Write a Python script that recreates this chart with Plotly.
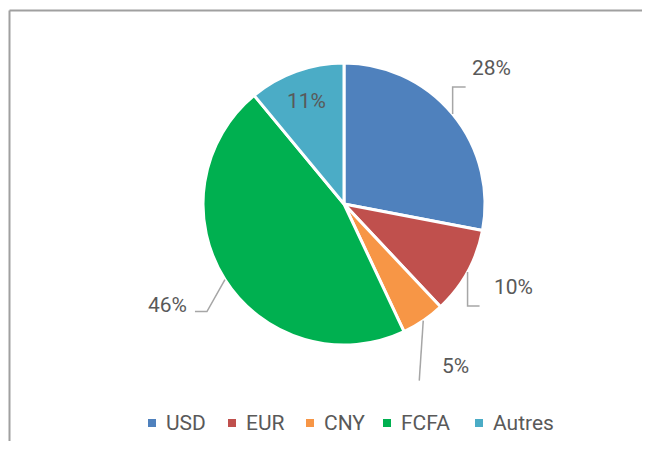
import math
import plotly.graph_objects as go

# ---- data ----
categories = ["USD", "EUR", "CNY", "FCFA", "Autres"]
values = [28, 10, 5, 46, 11]
colors = ["#4F81BD", "#C0504D", "#F79646", "#00B050", "#4BACC6"]

# ---- layout constants ----
# The page body has an 8px margin, so the figure is drawn offset by 8px and
# slightly smaller so that the page does not scroll.
OFF = 8
W, H = 656 - 2 * OFF - 6, 455 - 2 * OFF - 6
CX, CY, R = 344, 204, 141          # page pixel coordinates of the pie
TEXT_COLOR = "#595959"
LEADER_COLOR = "#A6A6A6"
FONT = "Roboto"
FONT_SIZE = 21

# label / leader placement, offsets in px relative to the slice edge at mid-angle
label_layout = {
    "USD": dict(path=[(0, -27), (13, 0)], label=(39, -46)),
    "EUR": dict(path=[(0, 34), (12, 0)], label=(46, 15)),
    "CNY": dict(path=[(-4, 60)], label=(32, 45)),
    "FCFA": dict(path=[(-18, 32), (-12, 0)], label=(-57, 25)),
    "Autres": dict(inside=0.78),
}
# legend symbol x positions (page px) and row y
legend_x = [152, 232, 310, 387, 479]
legend_y = 423
legend_sym = 8


def px(x):
    return (x - OFF) / W


def py(y):
    return 1 - (y - OFF) / H


fig = go.Figure(
    go.Pie(
        labels=categories,
        values=values,
        sort=False,
        direction="clockwise",
        rotation=0,
        marker=dict(colors=colors, line=dict(color="white", width=3)),
        textinfo="none",
        hoverinfo="skip",
        showlegend=False,
        domain=dict(x=[px(CX - R), px(CX + R)], y=[py(CY + R), py(CY - R)]),
    )
)

total = sum(values)
cum = 0
shapes = []
annotations = []
for cat, v in zip(categories, values):
    theta = (cum + v / 2) / total * 2 * math.pi
    cum += v
    lay = label_layout[cat]
    text = f"{v}%"
    if "inside" in lay:
        rr = R * lay["inside"]
        lx, ly = CX + rr * math.sin(theta), CY - rr * math.cos(theta)
    else:
        ex, ey = CX + R * math.sin(theta), CY - R * math.cos(theta)
        pts = [(ex, ey)]
        for dx, dy in lay["path"]:
            lastx, lasty = pts[-1]
            pts.append((lastx + dx, lasty + dy))
        d = "M " + " L ".join(f"{px(x):.5f},{py(y):.5f}" for x, y in pts)
        shapes.append(dict(type="path", xref="paper", yref="paper", path=d,
                           line=dict(color=LEADER_COLOR, width=1.5)))
        lx, ly = ex + lay["label"][0], ey + lay["label"][1]
    annotations.append(dict(x=px(lx), y=py(ly), xref="paper", yref="paper",
                            text=text, showarrow=False, xanchor="center", yanchor="middle",
                            font=dict(family=FONT, size=FONT_SIZE, color=TEXT_COLOR)))

# legend (symbol squares + labels)
for cat, col, lxp in zip(categories, colors, legend_x):
    h = legend_sym / 2
    shapes.append(dict(type="rect", xref="paper", yref="paper",
                       x0=px(lxp - h), x1=px(lxp + h), y0=py(legend_y + h), y1=py(legend_y - h),
                       fillcolor=col, line=dict(width=0)))
    annotations.append(dict(x=px(lxp + 12), y=py(legend_y), xref="paper", yref="paper",
                            text=cat, showarrow=False, xanchor="left", yanchor="middle",
                            font=dict(family=FONT, size=FONT_SIZE, color=TEXT_COLOR)))

# chart frame: only its top and left edges are inside the picture
frame = dict(color="#A0A0A0", width=2)
shapes.append(dict(type="line", xref="paper", yref="paper",
                   x0=px(9.5), x1=1.0, y0=py(10.5), y1=py(10.5), line=frame, layer="below"))
shapes.append(dict(type="line", xref="paper", yref="paper",
                   x0=px(9.5), x1=px(9.5), y0=py(10.5), y1=0.0, line=frame, layer="below"))

fig.update_layout(
    width=W, height=H,
    margin=dict(l=0, r=0, t=0, b=0),
    paper_bgcolor="white",
    plot_bgcolor="white",
    shapes=shapes,
    annotations=annotations,
    showlegend=False,
)

fig.write_html("out.html")
